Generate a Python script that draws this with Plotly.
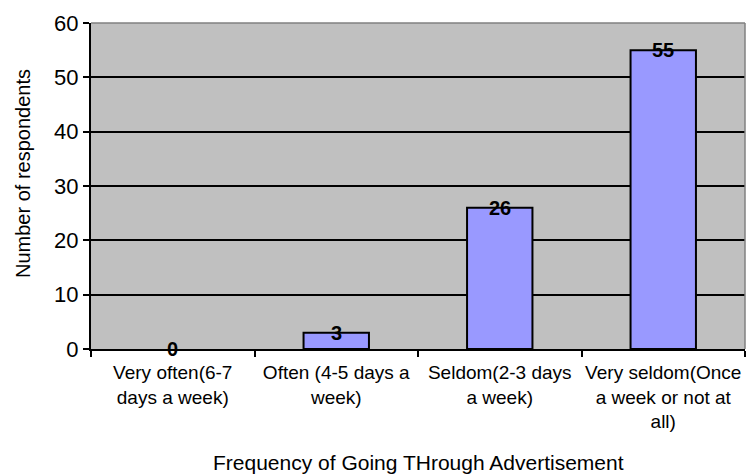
import plotly.graph_objects as go

# Survey responses: how often respondents go through advertisements
categories = [
    "Very often(6-7<br>days a week)",
    "Often (4-5 days a<br>week)",
    "Seldom(2-3 days<br>a week)",
    "Very seldom(Once<br>a week or not at<br>all)",
]
respondents = [0, 3, 26, 55]
y_ticks = [0, 10, 20, 30, 40, 50, 60]

FONT = "Liberation Sans, Arial, sans-serif"

# plot-area geometry in pixels
W, H = 751, 475
ML, MR, MT, MB = 91, 6, 23, 126
PLOT_H = H - MT - MB

fig = go.Figure()
fig.add_trace(go.Bar(
    x=categories,
    y=respondents,
    marker=dict(
        color="#9999FF",
        # an empty bar gets no outline
        line=dict(color="black", width=[2 if v > 0 else 0 for v in respondents]),
    ),
    width=0.4,
    hoverinfo="skip",
))

# Value labels centred on the top edge of each bar
for cat, val in zip(categories, respondents):
    fig.add_annotation(
        x=cat, y=val, xref="x", yref="y",
        text=f"<b>{val}</b>", showarrow=False,
        yanchor="middle", xanchor="center",
        font=dict(family=FONT, size=20, color="black"),
    )

# Vertical axis title, placed a little above the plot-area centre
fig.add_annotation(
    text="Number of respondents",
    xref="paper", yref="paper",
    x=(23 - ML) / (W - ML - MR), y=(H - MB - 174) / PLOT_H,
    xanchor="center", yanchor="middle",
    textangle=-90, showarrow=False,
    font=dict(family=FONT, size=20, color="black"),
)

# Horizontal axis title, centred under the plot area near the bottom edge
fig.add_annotation(
    text="Frequency of Going THrough Advertisement",
    xref="paper", yref="paper",
    x=0.5, y=-(462 - (H - MB)) / PLOT_H,
    xanchor="center", yanchor="middle",
    showarrow=False,
    font=dict(family=FONT, size=21, color="black"),
)

fig.update_layout(
    width=W, height=H,
    margin=dict(l=ML, r=MR, t=MT, b=MB),
    paper_bgcolor="white",
    plot_bgcolor="#C0C0C0",
    showlegend=False,
    font=dict(family=FONT, color="black"),
    shapes=[
        # grey plot-area border on top and right
        dict(type="line", xref="paper", yref="paper", x0=0, x1=1, y0=1, y1=1,
             line=dict(color="#808080", width=1.5), layer="above"),
        dict(type="line", xref="paper", yref="paper", x0=1, x1=1, y0=0, y1=1,
             line=dict(color="#808080", width=1.5), layer="above"),
    ],
)

fig.update_xaxes(
    type="category",
    range=[-0.5, 3.5],
    tickson="boundaries",
    ticks="outside", ticklen=6, tickwidth=1.5, tickcolor="black",
    showline=True, linecolor="black", linewidth=2,
    showgrid=False,
    tickangle=0,
    ticklabelstandoff=5,
    automargin=False,
    tickfont=dict(family=FONT, size=19, color="black"),
)

fig.update_yaxes(
    range=[0, 60],
    tickvals=y_ticks,
    ticks="outside", ticklen=6, tickwidth=1.5, tickcolor="black",
    showline=True, linecolor="black", linewidth=2,
    showgrid=True, gridcolor="black", gridwidth=1.8,
    zeroline=False,
    automargin=False,
    tickfont=dict(family=FONT, size=22, color="black"),
)

fig.write_html("out.html")
